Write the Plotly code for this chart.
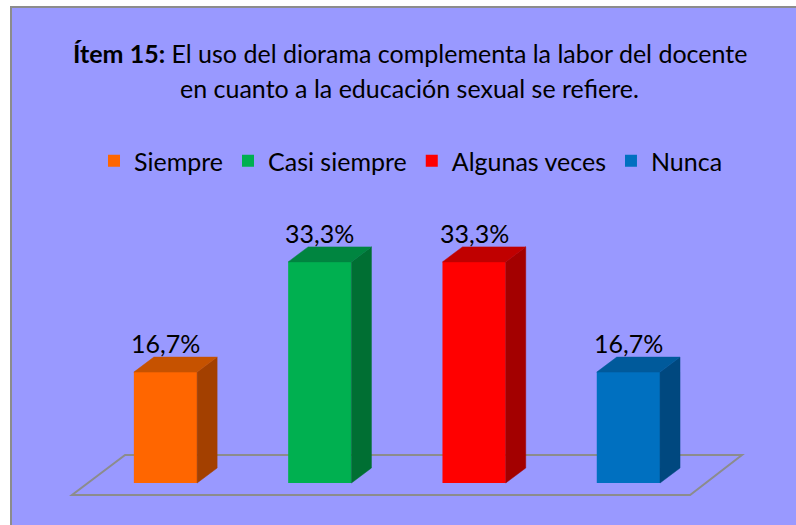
import plotly.graph_objects as go

# ---- data ----
categories = ["Siempre", "Casi siempre", "Algunas veces", "Nunca"]
values = [16.7, 33.3, 33.3, 16.7]
labels = ["16,7%", "33,3%", "33,3%", "16,7%"]

front_colors = ["#FF6600", "#00B050", "#FF0000", "#0070C0"]
side_colors = ["#A34000", "#006F33", "#A30000", "#00487F"]
top_colors = ["#C65200", "#008540", "#C00000", "#005A9B"]

# ---- layout constants ----
W, H = 796, 525
X_RANGE = [-1.0726, 4.0862]
Y_RANGE = [-6.325, 72.74]
BAR_W = 0.41
DX, DY = 0.1296, 2.26
FONT = "Lato"
FS = 25

fig = go.Figure()

# front faces
for i, (c, v, col) in enumerate(zip(categories, values, front_colors)):
    fig.add_trace(go.Bar(x=[i], y=[v], name=c, width=BAR_W,
                         marker=dict(color=col, line=dict(width=0)),
                         hoverinfo="skip"))

# side and top faces (oblique projection)
for i, (v, sc, tc) in enumerate(zip(values, side_colors, top_colors)):
    xr = i + BAR_W / 2
    xl = i - BAR_W / 2
    fig.add_trace(go.Scatter(
        x=[xr, xr, xr + DX, xr + DX, xr], y=[0, v, v + DY, DY, 0],
        fill="toself", fillcolor=sc, mode="lines", line=dict(width=0.5, color=sc),
        showlegend=False, hoverinfo="skip"))
    fig.add_trace(go.Scatter(
        x=[xl, xr, xr + DX, xl + DX, xl], y=[v, v, v + DY, v + DY, v],
        fill="toself", fillcolor=tc, mode="lines", line=dict(width=0.5, color=tc),
        showlegend=False, hoverinfo="skip"))

# value labels
for i, (v, t) in enumerate(zip(values, labels)):
    fig.add_annotation(x=i, y=v + DY, text=t, showarrow=False, yanchor="bottom",
                       xanchor="center", yshift=-3,
                       font=dict(family=FONT, size=FS, color="black"))

# title
fig.add_annotation(x=410 / W, y=1 - 53 / H, xref="paper", yref="paper", showarrow=False,
                   text="<b>Ítem 15:</b> El uso del diorama complementa la labor del docente",
                   font=dict(family=FONT, size=FS, color="black"), yanchor="middle")
fig.add_annotation(x=410 / W, y=1 - 88 / H, xref="paper", yref="paper", showarrow=False,
                   text="en cuanto a la educación sexual se refiere.",
                   font=dict(family=FONT, size=FS, color="black"), yanchor="middle")

# background panel and floor
floor = "M -0.606,-1.81 L 3.40,-1.81 L 3.736,4.22 L -0.262,4.22 Z"
fig.update_layout(shapes=[
    dict(type="rect", xref="paper", yref="paper", x0=11 / W, x1=1.02, y0=-0.02, y1=1 - 7 / H,
         fillcolor="#9999FF", line=dict(color="#8C8C8C", width=2), layer="below"),
    dict(type="path", xref="x", yref="y", path=floor,
         line=dict(color="#8C8C8C", width=2), layer="below"),
])

fig.update_layout(
    width=W, height=H, margin=dict(l=0, r=0, t=0, b=0),
    paper_bgcolor="white", plot_bgcolor="rgba(0,0,0,0)",
    barmode="overlay",
    xaxis=dict(range=X_RANGE, visible=False, domain=[0, 1]),
    yaxis=dict(range=Y_RANGE, visible=False, domain=[0, 1]),
    legend=dict(orientation="h", x=94 / W, y=1 - 161 / H, xanchor="left", yanchor="middle",
                bgcolor="rgba(0,0,0,0)", font=dict(family=FONT, size=FS, color="black"),
                traceorder="normal", itemsizing="constant"),
    showlegend=True,
)

fig.write_html("out.html", config={"displayModeBar": False},
               post_script="document.body.style.margin='0';")
